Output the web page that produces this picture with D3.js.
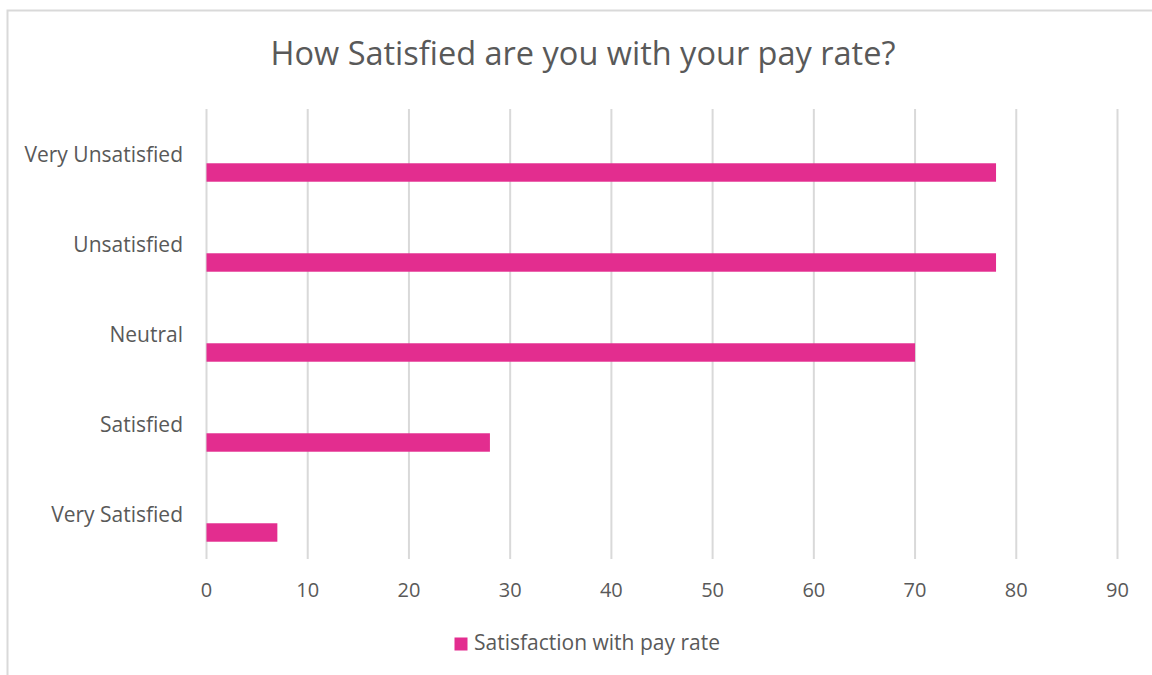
<!DOCTYPE html>
<html>
<head>
<meta charset="utf-8">
<script src="https://cdn.jsdelivr.net/npm/d3@7"></script>
<style>
  body { margin: 0; background: #fff; }
  svg { display: block; font-family: "Open Sans", sans-serif; }
</style>
</head>
<body>
<script>
// data
var categories = ["Very Unsatisfied", "Unsatisfied", "Neutral", "Satisfied", "Very Satisfied"];
var values = [78, 78, 70, 28, 7];
var xTicks = [0, 10, 20, 30, 40, 50, 60, 70, 80, 90];
var seriesName = "Satisfaction with pay rate";
var title = "How Satisfied are you with your pay rate?";

var width = 1152, height = 675,
    pink = "#E32D8F", textCol = "#595959", gridCol = "#D9D9D9";

var svg = d3.select("body").append("svg")
    .attr("width", width)
    .attr("height", height);

// chart frame (runs off right and bottom)
svg.append("rect")
    .attr("x", 7.5).attr("y", 10.5)
    .attr("width", width + 20).attr("height", height + 20)
    .attr("fill", "none").attr("stroke", gridCol).attr("stroke-width", 2);

var x = d3.scaleLinear().domain([0, 90]).range([206.5, 1117.5]);
var y = d3.scaleBand().domain(categories).range([109, 559]).padding(0);

// gridlines
svg.append("g").selectAll("line")
    .data(xTicks)
    .enter().append("line")
    .attr("x1", function (d) { return x(d); })
    .attr("x2", function (d) { return x(d); })
    .attr("y1", 109).attr("y2", 559)
    .attr("stroke", gridCol).attr("stroke-width", 2);

// bars sit in the lower part of each band
var bw = y.bandwidth();
svg.append("g").selectAll("rect")
    .data(values)
    .enter().append("rect")
    .attr("x", x(0))
    .attr("y", function (d, i) { return y(categories[i]) + bw * 0.603; })
    .attr("width", function (d) { return x(d) - x(0); })
    .attr("height", bw * 0.205)
    .attr("fill", pink);

// category labels
svg.append("g").selectAll("text")
    .data(categories)
    .enter().append("text")
    .attr("x", 183)
    .attr("y", function (d) { return y(d) + bw / 2 + 7.5; })
    .attr("text-anchor", "end")
    .attr("font-size", 21)
    .attr("fill", textCol)
    .text(function (d) { return d; });

// x tick labels
svg.append("g").selectAll("text")
    .data(xTicks)
    .enter().append("text")
    .attr("x", function (d) { return x(d); })
    .attr("y", 597)
    .attr("text-anchor", "middle")
    .attr("font-size", 20)
    .attr("fill", textCol)
    .text(function (d) { return d; });

// title
svg.append("text")
    .attr("x", 583).attr("y", 65)
    .attr("text-anchor", "middle")
    .attr("font-size", 32.5)
    .attr("fill", textCol)
    .text(title);

// legend
svg.append("rect")
    .attr("x", 454.5).attr("y", 637.5)
    .attr("width", 13).attr("height", 13)
    .attr("fill", pink);
svg.append("text")
    .attr("x", 474).attr("y", 650)
    .attr("font-size", 21)
    .attr("fill", textCol)
    .text(seriesName);
</script>
</body>
</html>
